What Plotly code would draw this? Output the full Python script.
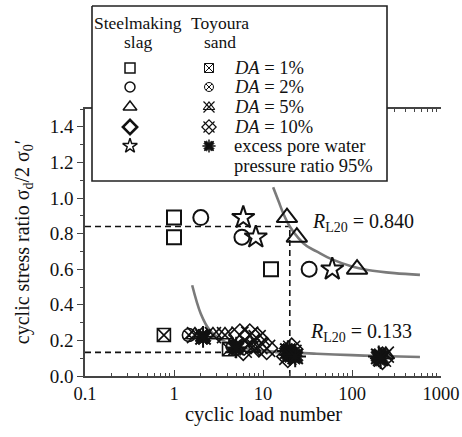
import plotly.graph_objects as go

# ---------------- data ----------------
# Steelmaking slag: cyclic load number N and cyclic stress ratio R
slag_da1_n = [1.0, 1.0, 12.3]
slag_da1_r = [0.89, 0.78, 0.60]
slag_da2_n = [2.0, 5.8, 33.0]
slag_da2_r = [0.89, 0.78, 0.60]
slag_da5_n = [18.6, 24.0, 114.0]
slag_da5_r = [0.89, 0.78, 0.60]
slag_pp95_n = [6.0, 8.3, 60.0]
slag_pp95_r = [0.89, 0.78, 0.60]

# Toyoura sand
sand_da1_n = [0.77, 4.15]
sand_da1_r = [0.23, 0.15]
sand_da2_n = [1.47, 4.6]
sand_da2_r = [0.23, 0.165]
sand_da5_n = [1.72, 2.74, 3.74, 7.5, 22.0, 240.0]
sand_da5_r = [0.23, 0.23, 0.23, 0.16, 0.13, 0.12]
sand_da10_n = [5.5, 7.1, 8.6, 6.0, 9.0, 11.0, 21.0, 19.0, 220.0]
sand_da10_r = [0.23, 0.23, 0.21, 0.15, 0.17, 0.155, 0.15, 0.11, 0.10]
sand_pp95_n = [2.12, 5.0, 19.0, 20.0, 23.0, 200.0, 210.0]
sand_pp95_r = [0.22, 0.16, 0.14, 0.12, 0.11, 0.11, 0.10]

# fitted curves
upper_curve_n = [13, 15, 17, 20, 25, 31, 40, 60, 100, 150, 300, 580]
upper_curve_r = [1.06, 0.98, 0.91, 0.84, 0.775, 0.73, 0.70, 0.655, 0.615, 0.596, 0.578, 0.568]
lower_curve_n = [1.6, 2.0, 2.5, 3.5, 5, 7, 10, 14, 20, 40, 100, 200, 580]
lower_curve_r = [0.51, 0.35, 0.26, 0.20, 0.168, 0.152, 0.142, 0.136, 0.133, 0.125, 0.117, 0.112, 0.107]

# liquefaction strength at N = 20
n_l20 = 20
rl20_slag = 0.840
rl20_sand = 0.133

x_tick_vals = [0.1, 1, 10, 100, 1000]
x_tick_text = ["0.1", "1", "10", "100", "1000"]
y_tick_vals = [0.0, 0.2, 0.4, 0.6, 0.8, 1.0, 1.2, 1.4]

# ---------------- figure ----------------
FONT = "Liberation Serif"
BLACK = "#111111"
AXC = "#444444"

fig = go.Figure()


def add_markers(xs, ys, symbol, size, lw=2.0, color=BLACK, xa="x", ya="y"):
    fig.add_trace(go.Scatter(
        x=xs, y=ys, mode="markers", xaxis=xa, yaxis=ya,
        marker=dict(symbol=symbol, size=size, color=color,
                    line=dict(color=color, width=lw)),
        showlegend=False, hoverinfo="skip"))


# dashed reference lines
for r in (rl20_slag, rl20_sand):
    fig.add_trace(go.Scatter(x=[0.1, n_l20], y=[r, r], mode="lines",
                             line=dict(color=BLACK, width=1.6, dash="6px,4px"),
                             showlegend=False, hoverinfo="skip"))
fig.add_trace(go.Scatter(x=[n_l20, n_l20], y=[0, rl20_slag], mode="lines",
                         line=dict(color=BLACK, width=1.6, dash="6px,4px"),
                         showlegend=False, hoverinfo="skip"))

# curves
for cx, cy in ((upper_curve_n, upper_curve_r), (lower_curve_n, lower_curve_r)):
    fig.add_trace(go.Scatter(x=cx, y=cy, mode="lines", line=dict(color="#7a7a7a", width=2.6, shape="spline"),
                             showlegend=False, hoverinfo="skip"))

# slag
add_markers(slag_da1_n, slag_da1_r, "square-open", 14)
add_markers(slag_da2_n, slag_da2_r, "circle-open", 15)
add_markers(slag_da5_n, slag_da5_r, "triangle-up-open", 18)
add_markers(slag_pp95_n, slag_pp95_r, "star-open", 17)

# sand
add_markers(sand_da1_n, sand_da1_r, "square-x-open", 13, 1.6)
add_markers(sand_da2_n, sand_da2_r, "circle-x-open", 13, 1.6)
add_markers(sand_da5_n, sand_da5_r, "triangle-up-open", 15, 1.6)
add_markers(sand_da5_n, sand_da5_r, "x-thin-open", 16, 1.6)
add_markers(sand_da10_n, sand_da10_r, "diamond-open", 17, 1.6)
add_markers(sand_da10_n, sand_da10_r, "x-thin-open", 17, 1.6)
add_markers(sand_pp95_n, sand_pp95_r, "x", 14, 1.0)
add_markers(sand_pp95_n, sand_pp95_r, "asterisk-open", 18, 2.0)

# ---------------- legend box (overlay subplot in pixel units) ----------------
bx0, by0, bx1, by1 = 92, 6, 387, 181
fig.add_trace(go.Scatter(x=[bx0, bx1, bx1, bx0, bx0], y=[by0, by0, by1, by1, by0],
                         mode="lines", fill="toself", fillcolor="white",
                         line=dict(color="#222222", width=1.6),
                         xaxis="x2", yaxis="y2", showlegend=False, hoverinfo="skip"))

row_y = [68, 87, 107, 127, 146]
slag_col, sand_col = 130, 209
slag_syms = [("square-open", 10, 1.5), ("circle-open", 10, 1.5), ("triangle-up-open", 12, 1.5),
             ("diamond-open", 11, 2.5), ("star-open", 11, 1.5)]
for (s, sz, lw), yy in zip(slag_syms, row_y):
    add_markers([slag_col], [yy], s, sz, lw, xa="x2", ya="y2")
sand_syms = [[("square-x-open", 9, 1)], [("circle-x-open", 9, 1)],
             [("triangle-up-open", 10, 1.2), ("x-thin-open", 11, 1.2)],
             [("diamond-open", 11, 1.2), ("x-thin-open", 11, 1.2)],
             [("x", 9, 0.8), ("asterisk-open", 11, 1.5)]]
for group, yy in zip(sand_syms, row_y):
    for s, sz, lw in group:
        add_markers([sand_col], [yy], s, sz, lw, xa="x2", ya="y2")

legend_texts = ["<i>DA</i> = 1%", "<i>DA</i> = 2%", "<i>DA</i> = 5%", "<i>DA</i> = 10%",
                "excess pore water"]
ann = []
for t, yy in zip(legend_texts, row_y):
    ann.append(dict(x=232, y=yy, xref="x2", yref="y2", text=t, showarrow=False,
                    xanchor="left", yanchor="middle", font=dict(size=18.5, family=FONT, color=BLACK)))
ann.append(dict(x=232, y=166, xref="x2", yref="y2", text="pressure ratio 95%", showarrow=False,
                xanchor="left", yanchor="middle", font=dict(size=18.5, family=FONT, color=BLACK)))
for t, xx, yy in (("Steelmaking", 138, 23), ("slag", 138, 42), ("Toyoura", 220, 23), ("sand", 220, 42)):
    ann.append(dict(x=xx, y=yy, xref="x2", yref="y2", text=t, showarrow=False,
                    xanchor="center", yanchor="middle", font=dict(size=17.5, family=FONT, color=BLACK)))

# R_L20 labels
ann.append(dict(x=1.528, y=0.86, xref="x", yref="y", text="<i>R</i><sub>L20</sub> = 0.840",
                showarrow=False, xanchor="left", yanchor="middle",
                font=dict(size=20, family=FONT, color=BLACK)))
ann.append(dict(x=1.506, y=0.245, xref="x", yref="y", text="<i>R</i><sub>L20</sub> = 0.133",
                showarrow=False, xanchor="left", yanchor="middle",
                font=dict(size=20, family=FONT, color=BLACK)))

# axis titles
ann.append(dict(x=-0.174, y=0.358, xref="paper", yref="paper", textangle=-90,
                text="cyclic stress ratio σ<sub>d</sub>/2 σ<sub>0</sub>′", showarrow=False,
                xanchor="center", yanchor="middle", font=dict(size=20, family=FONT, color=BLACK)))
ann.append(dict(x=0.5, y=-0.104, xref="paper", yref="paper", text="cyclic load number",
                showarrow=False, xanchor="center", yanchor="middle",
                font=dict(size=20.5, family=FONT, color=BLACK)))

minor_x = [m * 10 ** e for e in (-1, 0, 1, 2) for m in range(2, 10)]
minor_y = [0.1, 0.3, 0.5, 0.7, 0.9, 1.1, 1.3, 1.5]
main_dom = (376 - 109) / 374

fig.update_layout(
    width=462, height=437,
    margin=dict(l=85, r=21, t=2, b=61),
    paper_bgcolor="white", plot_bgcolor="rgba(0,0,0,0)",
    font=dict(family=FONT, size=17, color=BLACK),
    showlegend=False,
    annotations=ann,
    xaxis=dict(type="log", range=[-1, 3], domain=[0, 1], anchor="y",
               tickmode="array", tickvals=x_tick_vals, ticktext=x_tick_text,
               ticks="inside", ticklen=6, tickwidth=1.3, tickcolor=AXC,
               minor=dict(tickmode="array", tickvals=minor_x, ticks="inside", ticklen=3,
                          tickwidth=1.1, tickcolor=AXC, showgrid=False),
               showline=True, linecolor=AXC, linewidth=1.5, mirror="ticks",
               showgrid=False, zeroline=False,
               tickfont=dict(size=18.5, family=FONT, color=BLACK)),
    yaxis=dict(range=[0, 1.5], domain=[0, main_dom], anchor="x",
               tickmode="array", tickvals=y_tick_vals, tickformat=".1f",
               ticks="outside", ticklen=6, tickwidth=1.3, tickcolor=AXC,
               minor=dict(tickmode="array", tickvals=minor_y, ticks="outside", ticklen=3,
                          tickwidth=1.1, tickcolor=AXC, showgrid=False),
               showline=True, linecolor=AXC, linewidth=1.5,
               showgrid=False, zeroline=False,
               tickfont=dict(size=19, family=FONT, color=BLACK)),
    yaxis3=dict(range=[0, 1.5], overlaying="y", side="right", anchor="x",
                tickmode="array", tickvals=y_tick_vals, showticklabels=False,
                ticks="inside", ticklen=6, tickwidth=1.3, tickcolor=AXC,
                minor=dict(tickmode="array", tickvals=minor_y, ticks="inside", ticklen=3,
                           tickwidth=1.1, tickcolor=AXC, showgrid=False),
                showline=True, linecolor=AXC, linewidth=1.5,
                showgrid=False, zeroline=False),
    xaxis2=dict(domain=[0, 1], anchor="y2", range=[85, 441], visible=False, fixedrange=True),
    yaxis2=dict(domain=[0, 1], anchor="x2", range=[376, 2], visible=False, fixedrange=True),
)

fig.write_html("out.html", config={"displayModeBar": False},
               post_script="document.body.style.margin='0';document.body.style.overflow='hidden';")
